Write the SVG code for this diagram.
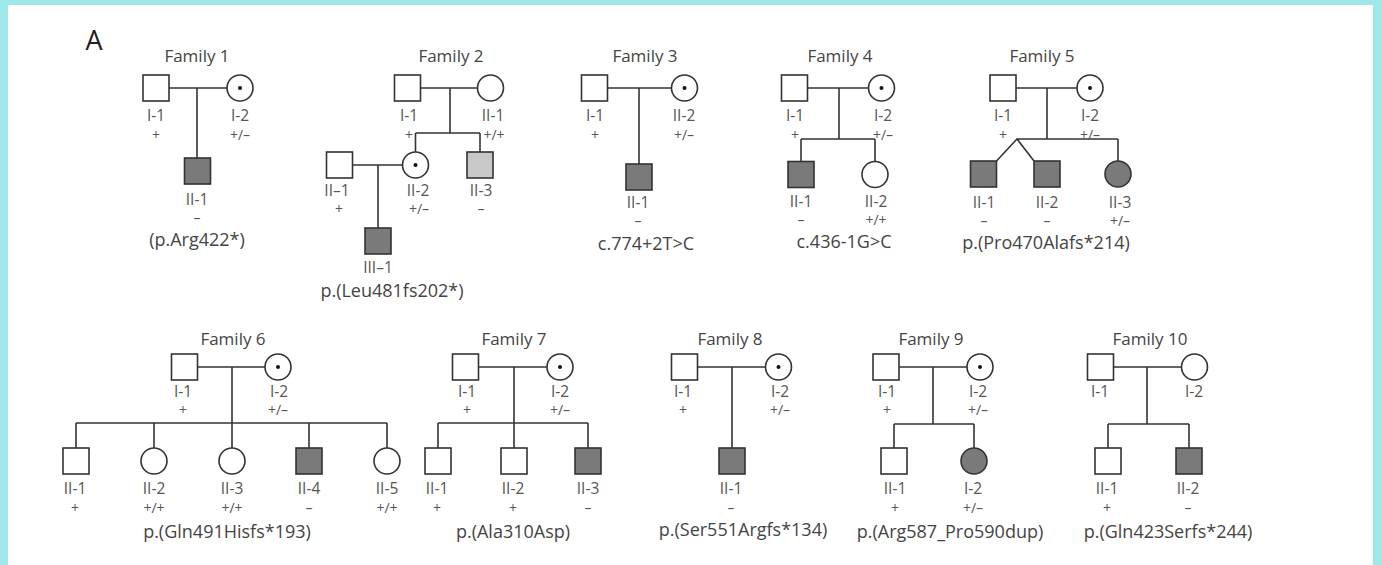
<svg xmlns="http://www.w3.org/2000/svg" width="1382" height="565" viewBox="0 0 1382 565">
<style>
.sq{fill:#fff;stroke:#333;stroke-width:1.6}
.ci{fill:#fff;stroke:#333;stroke-width:1.6}
.aff{fill:#7a7a7a}
.lt{fill:#c8c8c8}
.dot{fill:#111}
.ln{stroke:#333;stroke-width:1.6;fill:none}
text{font-family:"Open Sans","DejaVu Sans",sans-serif;fill:#555;text-anchor:middle;font-size:15.5px}
.g{font-size:14px}
.fam{font-size:17px;fill:#444}
.mut{font-size:18px;fill:#444}
</style>
<rect x="0" y="0" width="1382" height="565" fill="#9fe8ea"/>
<rect x="8" y="5" width="1365" height="560" fill="#fff"/>
<text x="94" y="50" style="font-size:27px;fill:#222">A</text>

<g id="connectors">
<path class="ln" d="M169 88H227M197 88V158"/>
<path class="ln" d="M420.5 88H477.5M450 88V133M415.5 133H480M415.5 133V152M480 133V152M352.5 165H402.5M378 165V228"/>
<path class="ln" d="M607.5 88H671.5M639 88V164"/>
<path class="ln" d="M807.5 88H868.5M839 88V139M801 139H875M801 139V161.5M875 139V161.5"/>
<path class="ln" d="M1016 88H1077M1047 88V139M1017 139H1118M996.5 161L1017 139L1034 161M1118 139V161"/>
<path class="ln" d="M197.5 367H265M232 367V448M76 423H387M76 423V448M154 423V448M309 423V448M387 423V448"/>
<path class="ln" d="M478.5 367H547M514 367V423M438 423H588M438 423V448M514 423V448M588 423V448"/>
<path class="ln" d="M697.5 367H765.5M732 367V448"/>
<path class="ln" d="M899 367H967M933 367V424M894 424H974M894 424V448M974 424V448"/>
<path class="ln" d="M1113.5 367H1181.5M1147 367V424M1108 424H1189M1108 424V448M1189 424V448"/>
</g>

<g id="family1">
<text class="fam" x="197" y="62">Family 1</text>
<g id="f1-I1"><rect class="sq" x="143" y="75" width="26" height="26"/><text x="156" y="121">I-1</text><text class="g" x="156" y="140">+</text></g>
<g id="f1-I2"><circle class="ci" cx="240" cy="88" r="13"/><circle class="dot" cx="240" cy="88" r="2"/><text x="240" y="121">I-2</text><text class="g" x="240" y="140">+/–</text></g>
<g id="f1-II1"><rect class="sq aff" x="184.5" y="158" width="26" height="26"/><text x="197" y="205">II-1</text><text class="g" x="197" y="223">–</text><text class="mut" x="197" y="246">(p.Arg422*)</text></g>
</g>

<g id="family2">
<text class="fam" x="451" y="62">Family 2</text>
<g id="f2-I1"><rect class="sq" x="394.5" y="75" width="26" height="26"/><text x="409" y="121">I-1</text><text class="g" x="409" y="140">+</text></g>
<g id="f2-II1a"><circle class="ci" cx="490.5" cy="88" r="13"/><text x="493" y="121">II-1</text><text class="g" x="494" y="140">+/+</text></g>
<g id="f2-II1"><rect class="sq" x="326.5" y="152" width="26" height="26"/><text x="337" y="196">II–1</text><text class="g" x="339" y="214">+</text></g>
<g id="f2-II2"><circle class="ci" cx="415.5" cy="165" r="13"/><circle class="dot" cx="415.5" cy="165" r="2"/><text x="418" y="196">II-2</text><text class="g" x="419" y="214">+/–</text></g>
<g id="f2-II3"><rect class="sq lt" x="467" y="152" width="26" height="26"/><text x="481" y="196">II-3</text><text class="g" x="481" y="214">–</text></g>
<g id="f2-III1"><rect class="sq aff" x="365" y="228" width="26" height="26"/><text x="378" y="273">III–1</text><text class="mut" x="392" y="297">p.(Leu481fs202*)</text></g>
</g>

<g id="family3">
<text class="fam" x="645" y="62">Family 3</text>
<g id="f3-I1"><rect class="sq" x="581.5" y="75" width="26" height="26"/><text x="595" y="121">I-1</text><text class="g" x="595" y="140">+</text></g>
<g id="f3-I2"><circle class="ci" cx="684.5" cy="88" r="13"/><circle class="dot" cx="684.5" cy="88" r="2"/><text x="684" y="121">II-2</text><text class="g" x="684" y="140">+/–</text></g>
<g id="f3-II1"><rect class="sq aff" x="626" y="164" width="26" height="26"/><text x="638" y="208">II-1</text><text class="g" x="638" y="226">–</text><text class="mut" x="646" y="250">c.774+2T&gt;C</text></g>
</g>

<g id="family4">
<text class="fam" x="840" y="62">Family 4</text>
<g id="f4-I1"><rect class="sq" x="781.5" y="75" width="26" height="26"/><text x="795" y="121">I-1</text><text class="g" x="795" y="140">+</text></g>
<g id="f4-I2"><circle class="ci" cx="881.5" cy="88" r="13"/><circle class="dot" cx="881.5" cy="88" r="2"/><text x="883" y="121">I-2</text><text class="g" x="883" y="140">+/–</text></g>
<g id="f4-II1"><rect class="sq aff" x="788" y="161.5" width="26" height="26"/><text x="801" y="207">II-1</text><text class="g" x="801" y="225">–</text></g>
<g id="f4-II2"><circle class="ci" cx="875" cy="174.5" r="13"/><text x="876" y="207">II-2</text><text class="g" x="876" y="225">+/+</text></g>
<text class="mut" x="844" y="248">c.436-1G&gt;C</text>
</g>

<g id="family5">
<text class="fam" x="1042" y="62">Family 5</text>
<g id="f5-I1"><rect class="sq" x="990" y="75" width="26" height="26"/><text x="1003" y="121">I-1</text><text class="g" x="1003" y="140">+</text></g>
<g id="f5-I2"><circle class="ci" cx="1090" cy="88" r="13"/><circle class="dot" cx="1090" cy="88" r="2"/><text x="1090" y="121">I-2</text><text class="g" x="1090" y="140">+/–</text></g>
<g id="f5-II1"><rect class="sq aff" x="970.5" y="161" width="26" height="26"/><text x="984" y="208">II-1</text><text class="g" x="984" y="226">–</text></g>
<g id="f5-II2"><rect class="sq aff" x="1034" y="161" width="26" height="26"/><text x="1047" y="208">II-2</text><text class="g" x="1047" y="226">–</text></g>
<g id="f5-II3"><circle class="ci aff" cx="1118" cy="174" r="13"/><text x="1120" y="208">II-3</text><text class="g" x="1120" y="226">+/–</text></g>
<text class="mut" x="1046" y="249">p.(Pro470Alafs*214)</text>
</g>

<g id="family6">
<text class="fam" x="233" y="345">Family 6</text>
<g id="f6-I1"><rect class="sq" x="171.5" y="354" width="26" height="26"/><text x="183" y="397">I-1</text><text class="g" x="183" y="415">+</text></g>
<g id="f6-I2"><circle class="ci" cx="278" cy="367" r="13"/><circle class="dot" cx="278" cy="367" r="2"/><text x="279" y="397">I-2</text><text class="g" x="278" y="415">+/–</text></g>
<g id="f6-II1"><rect class="sq" x="63" y="448" width="26" height="26"/><text x="75" y="494">II-1</text><text class="g" x="75" y="513">+</text></g>
<g id="f6-II2"><circle class="ci" cx="154" cy="461" r="13"/><text x="154" y="494">II-2</text><text class="g" x="154" y="513">+/+</text></g>
<g id="f6-II3"><circle class="ci" cx="232" cy="461" r="13"/><text x="232" y="494">II-3</text><text class="g" x="232" y="513">+/+</text></g>
<g id="f6-II4"><rect class="sq aff" x="296" y="448" width="26" height="26"/><text x="309" y="494">II-4</text><text class="g" x="309" y="513">–</text></g>
<g id="f6-II5"><circle class="ci" cx="387" cy="461" r="13"/><text x="387" y="494">II-5</text><text class="g" x="387" y="513">+/+</text></g>
<text class="mut" x="227" y="538">p.(Gln491Hisfs*193)</text>
</g>

<g id="family7">
<text class="fam" x="514" y="345">Family 7</text>
<g id="f7-I1"><rect class="sq" x="452.5" y="354" width="26" height="26"/><text x="467" y="397">I-1</text><text class="g" x="467" y="415">+</text></g>
<g id="f7-I2"><circle class="ci" cx="560" cy="367" r="13"/><circle class="dot" cx="560" cy="367" r="2"/><text x="560" y="397">I-2</text><text class="g" x="560" y="415">+/–</text></g>
<g id="f7-II1"><rect class="sq" x="425" y="448" width="26" height="26"/><text x="437" y="494">II-1</text><text class="g" x="437" y="513">+</text></g>
<g id="f7-II2"><rect class="sq" x="501" y="448" width="26" height="26"/><text x="513" y="494">II-2</text><text class="g" x="513" y="513">+</text></g>
<g id="f7-II3"><rect class="sq aff" x="575" y="448" width="26" height="26"/><text x="588" y="494">II-3</text><text class="g" x="588" y="513">–</text></g>
<text class="mut" x="513" y="538">p.(Ala310Asp)</text>
</g>

<g id="family8">
<text class="fam" x="730" y="345">Family 8</text>
<g id="f8-I1"><rect class="sq" x="671.5" y="354" width="26" height="26"/><text x="683" y="397">I-1</text><text class="g" x="683" y="415">+</text></g>
<g id="f8-I2"><circle class="ci" cx="778.5" cy="367" r="13"/><circle class="dot" cx="778.5" cy="367" r="2"/><text x="780" y="397">I-2</text><text class="g" x="780" y="415">+/–</text></g>
<g id="f8-II1"><rect class="sq aff" x="719" y="448" width="26" height="26"/><text x="731" y="494">II-1</text><text class="g" x="731" y="513">–</text><text class="mut" x="743" y="536">p.(Ser551Argfs*134)</text></g>
</g>

<g id="family9">
<text class="fam" x="931" y="345">Family 9</text>
<g id="f9-I1"><rect class="sq" x="873" y="354" width="26" height="26"/><text x="887" y="397">I-1</text><text class="g" x="887" y="415">+</text></g>
<g id="f9-I2"><circle class="ci" cx="980" cy="367" r="13"/><circle class="dot" cx="980" cy="367" r="2"/><text x="978" y="397">I-2</text><text class="g" x="978" y="415">+/–</text></g>
<g id="f9-II1"><rect class="sq" x="881" y="448" width="26" height="26"/><text x="895" y="494">II-1</text><text class="g" x="895" y="513">+</text></g>
<g id="f9-II2"><circle class="ci aff" cx="974" cy="461" r="13"/><text x="973" y="494">I-2</text><text class="g" x="973" y="513">+/–</text></g>
<text class="mut" x="950" y="538">p.(Arg587_Pro590dup)</text>
</g>

<g id="family10">
<text class="fam" x="1150" y="345">Family 10</text>
<g id="f10-I1"><rect class="sq" x="1087.5" y="354" width="26" height="26"/><text x="1100" y="397">I-1</text></g>
<g id="f10-I2"><circle class="ci" cx="1194.5" cy="367" r="13"/><text x="1194" y="397">I-2</text></g>
<g id="f10-II1"><rect class="sq" x="1095" y="448" width="26" height="26"/><text x="1107" y="494">II-1</text><text class="g" x="1107" y="513">+</text></g>
<g id="f10-II2"><rect class="sq aff" x="1176" y="448" width="26" height="26"/><text x="1188" y="494">II-2</text><text class="g" x="1188" y="513">–</text></g>
<text class="mut" x="1168" y="538">p.(Gln423Serfs*244)</text>
</g>
</svg>
